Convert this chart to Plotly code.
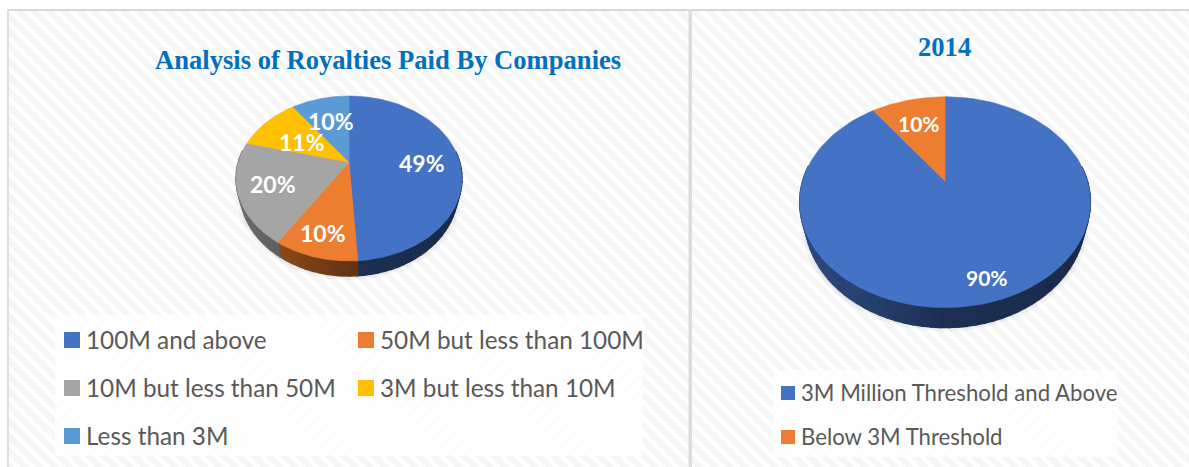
import numpy as np
import plotly.graph_objects as go

# ---- data ----
royalty_categories = ["100M and above", "50M but less than 100M", "10M but less than 50M",
                      "3M but less than 10M", "Less than 3M"]
royalty_values = [49, 10, 20, 11, 10]
threshold_categories = ["3M Million Threshold and Above", "Below 3M Threshold"]
threshold_values = [90, 10]
title_left = "Analysis of Royalties Paid By Companies"
title_right = "2014"
left_colors = ["#4472C4", "#ED7D31", "#A5A5A5", "#FFC000", "#5B9BD5"]
right_colors = ["#4472C4", "#ED7D31"]

W, H = 1189, 467
fig = go.Figure()


def poly(x, y, color, width=0.6):
    fig.add_trace(go.Scatter(x=x, y=y, mode="lines", fill="toself", fillcolor=color,
                             line=dict(color=color, width=width), hoverinfo="skip",
                             showlegend=False))


def box(x0, y0, x1, y1, color):
    fig.add_trace(go.Scatter(x=[x0, x1, x1, x0, x0], y=[y0, y0, y1, y1, y0], mode="lines",
                             fill="toself", fillcolor=color, line=dict(width=0),
                             hoverinfo="skip", showlegend=False))


# ---- hatched backdrop ----
PERIOD, STRIPE = 15, 6
sx, sy = [], []
for c in np.arange(-H - PERIOD, W + PERIOD, PERIOD):
    sx += [c, c + H + 20, None]
    sy += [-10, H + 10, None]
fig.add_trace(go.Scatter(x=sx, y=sy, mode="lines", line=dict(color="#F6F6F6", width=STRIPE),
                         hoverinfo="skip", showlegend=False))
box(0, 0, W, 10, "#FFFFFF")
box(0, 0, 8, H, "#FFFFFF")
box(7, 9, W, 11, "#D9D9D9")
box(7, 9, 9, H, "#DEDEDE")
box(688.5, 9, 692, H, "#DCDCDC")
box(55, 315, 643, 456, "rgba(255,255,255,0.72)")
box(773, 370, 1118, 457, "rgba(255,255,255,0.72)")


def shade(hex_color, u):
    f = np.interp(u, [-1, -0.5, 0, 1], [0.66, 0.58, 0.42, 0.38])
    r, g, b = [int(hex_color[i:i + 2], 16) for i in (1, 3, 5)]
    return f"rgb({int(r * f)},{int(g * f)},{int(b * f)})"


def pie3d(values, colors, cx, cy, R, a, k, depth, base_scale=0.965):
    total = sum(values)
    fracs = np.cumsum([0] + list(values)) / total

    def project(theta):
        u, v = np.sin(theta), np.cos(theta)
        w = 1 + k * v
        return cx + R * u / w, cy - a * v / w, depth * (1 - k) / w

    def base(x, y, d):
        return cx + (x - cx) * base_scale, y + d

    # faint soft shadow under the base
    ring = np.linspace(0, 2 * np.pi, 180)
    rx, ry, rd = project(ring)
    bx, by = base(rx, ry, rd)
    for grow in (4, 2):
        poly(cx + (bx - cx) * (1 + grow / R), by + grow, "rgba(0,0,0,0.035)", width=0)

    # side wall, drawn first so the top face covers its hidden part
    for i, col in enumerate(colors):
        t0, t1 = 2 * np.pi * fracs[i], 2 * np.pi * fracs[i + 1]
        n = max(2, int((t1 - t0) / np.radians(3)))
        edges = np.linspace(t0, t1, n + 1)
        for e0, e1 in zip(edges[:-1], edges[1:]):
            mid = (e0 + e1) / 2
            if np.cos(mid) > 0.15:
                continue
            x, y, d = project(np.array([e0, e1]))
            qx, qy = base(x, y, d)
            poly([x[0], x[1], qx[1], qx[0], x[0]],
                 [y[0], y[1], qy[1], qy[0], y[0]],
                 shade(col, np.sin(mid)), width=1.5)
    # top face
    for i, col in enumerate(colors):
        t = np.linspace(2 * np.pi * fracs[i], 2 * np.pi * fracs[i + 1], 120)
        x, y, _ = project(t)
        poly([cx] + list(x) + [cx], [cy] + list(y) + [cy], col)


pie3d(royalty_values, left_colors, cx=349, cy=162, R=110.7, a=79.2, k=0.2, depth=15)
pie3d(threshold_values, right_colors, cx=945, cy=180.7, R=142.3, a=101, k=0.204, depth=20)

# ---- legend swatches ----
left_pos = [(72, 340), (366, 340), (72, 388), (366, 388), (72, 436)]
right_pos = [(788, 393), (788, 437)]
annotations = []


def legend_row(names, colors, pos, size, font_size):
    for name, col, (x, y) in zip(names, colors, pos):
        fig.add_trace(go.Scatter(x=[x], y=[y], mode="markers", name=name,
                                 marker=dict(symbol="square", size=size, color=col, line=dict(width=0)),
                                 hoverinfo="skip", showlegend=False))
        annotations.append(dict(x=x + size / 2 + 4, y=y - 1, text=name, xanchor="left", yanchor="middle",
                                showarrow=False,
                                font=dict(family="Lato, sans-serif", size=font_size, color="#595959")))


legend_row(royalty_categories, left_colors, left_pos, 16, 24.3)
legend_row(threshold_categories, right_colors, right_pos, 14, 22.2)


# ---- value labels ----
def pct(v, vals):
    return f"{round(100 * v / sum(vals))}%"


left_label_pos = [(422, 163), (323, 233), (273, 184), (302, 142), (331, 121)]
for v, (x, y) in zip(royalty_values, left_label_pos):
    annotations.append(dict(x=x, y=y, text=f"<b>{pct(v, royalty_values)}</b>", showarrow=False,
                            font=dict(family="Lato, sans-serif", size=23, color="#FFFFFF")))
right_label_pos = [(987, 277), (919, 123)]
for v, (x, y) in zip(threshold_values, right_label_pos):
    annotations.append(dict(x=x, y=y, text=f"<b>{pct(v, threshold_values)}</b>", showarrow=False,
                            font=dict(family="Lato, sans-serif", size=21, color="#FFFFFF")))

# ---- titles ----
annotations.append(dict(x=388, y=60, text=f"<b>{title_left}</b>", showarrow=False,
                        font=dict(family="Liberation Serif, serif", size=26.6, color="#0070C0")))
annotations.append(dict(x=944.5, y=47, text=f"<b>{title_right}</b>", showarrow=False,
                        font=dict(family="Liberation Serif, serif", size=26.6, color="#0070C0")))

fig.update_layout(
    width=W, height=H, margin=dict(l=0, r=0, t=0, b=0),
    paper_bgcolor="#FFFFFF", plot_bgcolor="#FFFFFF", showlegend=False,
    xaxis=dict(range=[0, W], visible=False, fixedrange=True),
    yaxis=dict(range=[H, 0], visible=False, fixedrange=True),
    annotations=annotations,
)
fig.write_html("out.html", config={"displayModeBar": False},
               post_script="document.body.style.margin='0';document.body.style.overflow='hidden';")
